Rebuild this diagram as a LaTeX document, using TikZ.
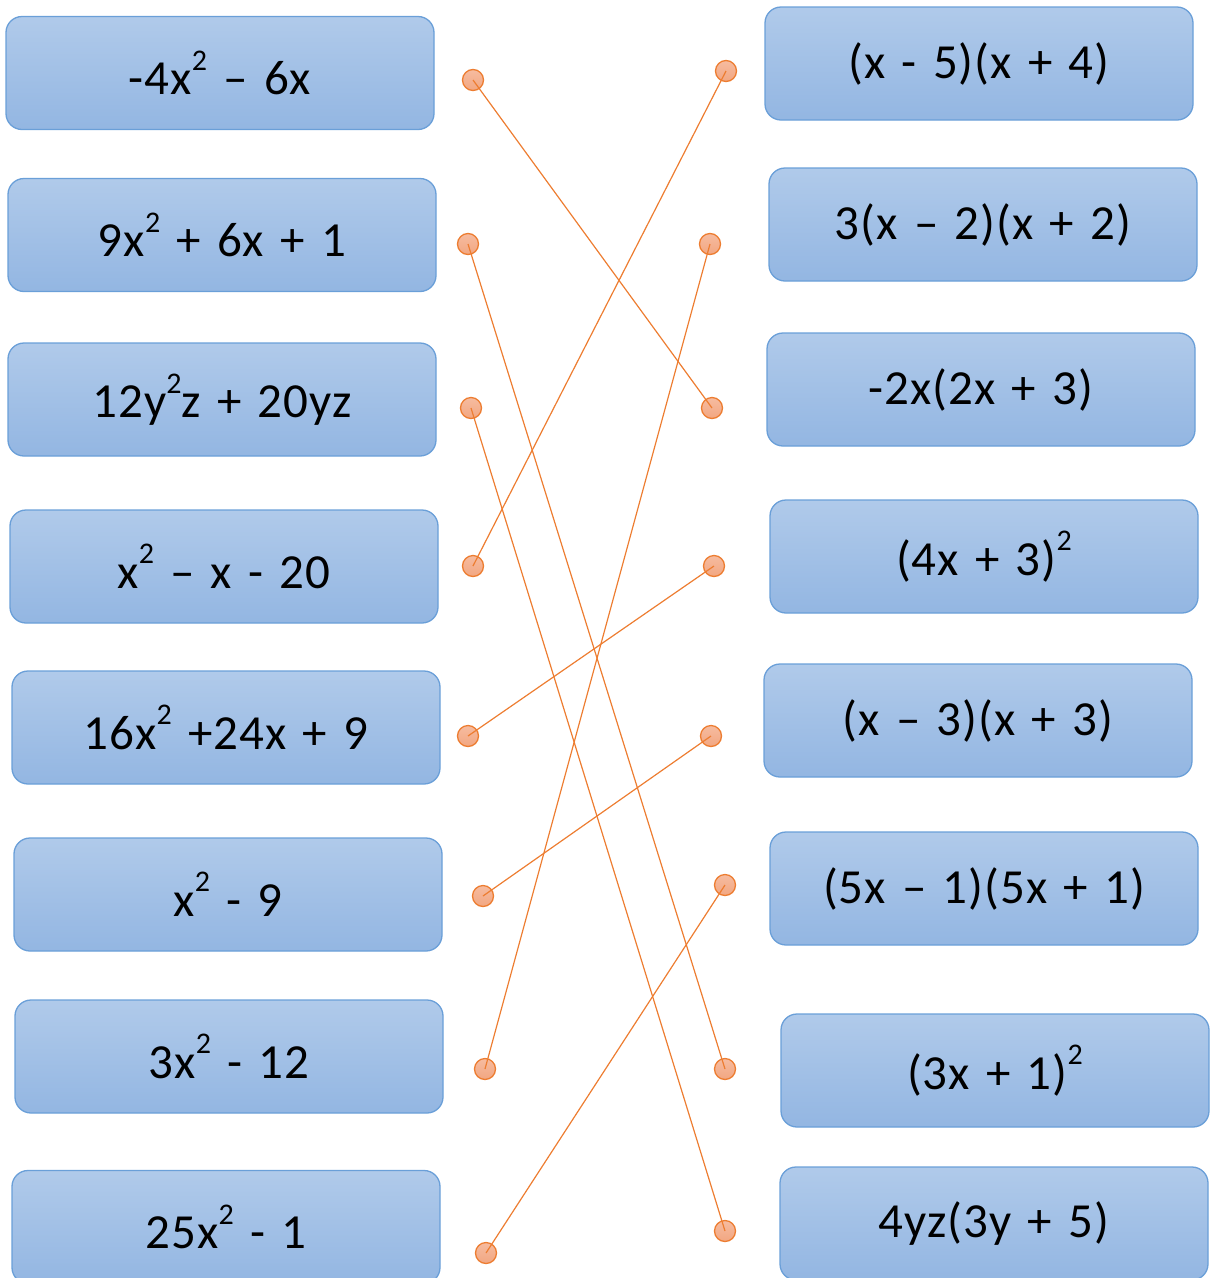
\documentclass[tikz,border=0pt]{standalone}
\usepackage{fontspec}
\setmainfont{Carlito}[WordSpace=1.35, LetterSpace=2]
\definecolor{boxtop}{HTML}{B0CAEA}
\definecolor{boxbot}{HTML}{93B6E2}
\definecolor{boxline}{HTML}{6A9FD8}
\definecolor{dottop}{HTML}{F6BBA0}
\definecolor{dotbot}{HTML}{F2A681}
\definecolor{orangeline}{HTML}{ED7D31}
\newcommand{\sqr}{\raisebox{0.5em}{\fontsize{30}{30}\selectfont 2}}
\begin{document}
\begin{tikzpicture}[x=1pt,y=-1pt,
  termbox/.style={rectangle, rounded corners=16pt, draw=boxline, line width=1.3pt,
    top color=boxtop, bottom color=boxbot, minimum width=428pt, minimum height=113pt,
    inner sep=0pt, font=\fontsize{49}{49}\selectfont, text=black},
  pin/.style={circle, draw=orangeline, line width=1.3pt, top color=dottop, bottom color=dotbot,
    minimum size=21pt, inner sep=0pt},
  link/.style={draw=orangeline, line width=1.2pt}]
\useasboundingbox (0,0) rectangle (1214,1278);
\clip (0,0) rectangle (1214,1278);
% left boxes
\node[termbox] (a1) at (220,73) {-4x\sqr{} – 6x};
\node[termbox] (a2) at (222,235) {9x\sqr{} + 6x + 1};
\node[termbox] (a3) at (222,399.5) {12y\sqr{}z + 20yz};
\node[termbox] (a4) at (224,566.5) {x\sqr{} – x - 20};
\node[termbox] (a5) at (226,727.5) {16x\sqr{} +24x + 9};
\node[termbox] (a6) at (228,894.5) {x\sqr{} - 9};
\node[termbox] (a7) at (229,1056.5) {3x\sqr{} - 12};
\node[termbox] (a8) at (226,1227) {25x\sqr{} - 1};
% right boxes
\node[termbox] (b1) at (979,63.5) {(x - 5)(x + 4)};
\node[termbox] (b2) at (983,224.5) {3(x – 2)(x + 2)};
\node[termbox] (b3) at (981,389.5) {-2x(2x + 3)};
\node[termbox] (b4) at (984,556.5) {(4x + 3)\sqr};
\node[termbox] (b5) at (978,720.5) {(x – 3)(x + 3)};
\node[termbox] (b6) at (984,888.5) {(5x – 1)(5x + 1)};
\node[termbox] (b7) at (995,1070.5) {(3x + 1)\sqr};
\node[termbox] (b8) at (994,1223.5) {4yz(3y + 5)};
% pins
\node[pin] (p1) at (473,80) {};
\node[pin] (p2) at (468,244) {};
\node[pin] (p3) at (471,408) {};
\node[pin] (p4) at (473,566) {};
\node[pin] (p5) at (468,736) {};
\node[pin] (p6) at (483,896) {};
\node[pin] (p7) at (485,1069) {};
\node[pin] (p8) at (486,1253) {};
\node[pin] (q1) at (726,71) {};
\node[pin] (q2) at (710,244) {};
\node[pin] (q3) at (712,408) {};
\node[pin] (q4) at (714,566) {};
\node[pin] (q5) at (711,736) {};
\node[pin] (q6) at (725,885) {};
\node[pin] (q7) at (725,1069) {};
\node[pin] (q8) at (725,1231) {};
% links
\draw[link] (p1.center) -- (q3.center);
\draw[link] (p2.center) -- (q7.center);
\draw[link] (p3.center) -- (q8.center);
\draw[link] (p4.center) -- (q1.center);
\draw[link] (p5.center) -- (q4.center);
\draw[link] (p6.center) -- (q5.center);
\draw[link] (p7.center) -- (q2.center);
\draw[link] (p8.center) -- (q6.center);
\end{tikzpicture}
\end{document}
